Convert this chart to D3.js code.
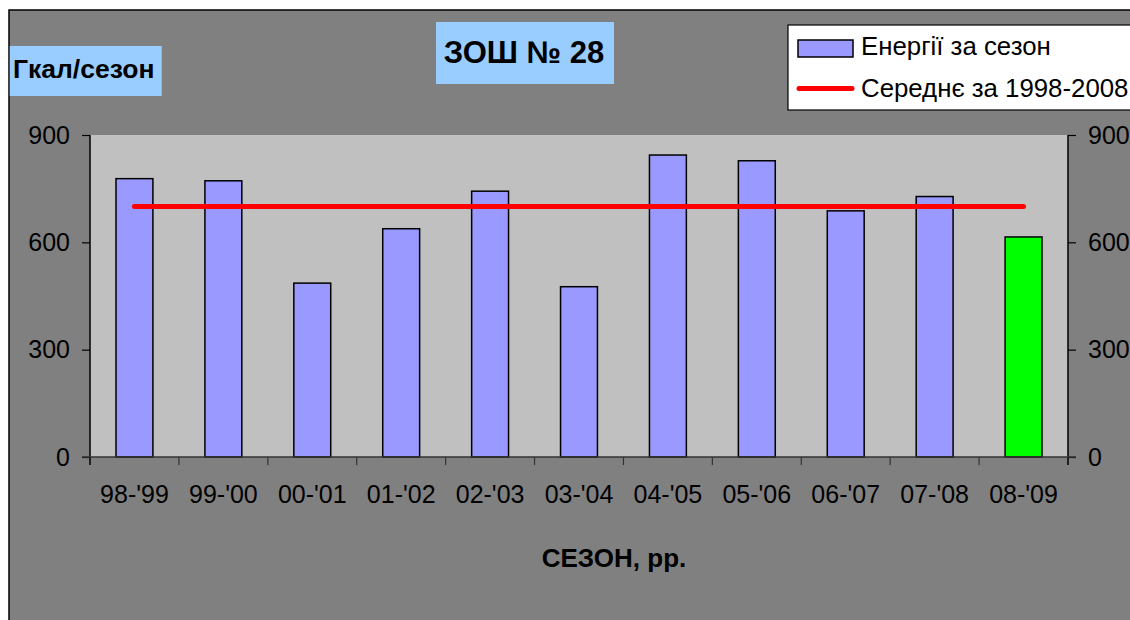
<!DOCTYPE html>
<html>
<head>
<meta charset="utf-8">
<script src="https://cdn.jsdelivr.net/npm/d3@7"></script>
<style>
  html, body { margin: 0; padding: 0; background: #ffffff; }
  svg { display: block; font-family: "Liberation Sans", Arial, sans-serif; }
</style>
</head>
<body>
<svg id="chart" width="1130" height="620"></svg>
<script>
// ---- data ----
const seasons = ["98-'99", "99-'00", "00-'01", "01-'02", "02-'03", "03-'04", "04-'05", "05-'06", "06-'07", "07-'08", "08-'09"];
const energy = [778, 772, 486, 638, 743, 476, 844, 828, 688, 728, 615];
const average = [700, 700, 700, 700, 700, 700, 700, 700, 700, 700, 700];
const yTicks = [0, 300, 600, 900];
const titleText = "ЗОШ № 28";
const yTitle = "Гкал/сезон";
const xTitle = "СЕЗОН, рр.";
const legendLabels = ["Енергії за сезон", "Середнє за 1998-2008"];

const svg = d3.select("#chart");
const plot = { left: 90, right: 1068, top: 135, bottom: 457 };

// background chart area
svg.append("rect").attr("x", 9).attr("y", 10).attr("width", 1140).attr("height", 630)
  .attr("fill", "#808080").attr("stroke", "#000").attr("stroke-width", 1.5);

// plot area
svg.append("rect").attr("x", plot.left).attr("y", plot.top)
  .attr("width", plot.right - plot.left).attr("height", plot.bottom - plot.top)
  .attr("fill", "#C0C0C0");

const x = d3.scaleBand().domain(seasons).range([plot.left, plot.right]).paddingInner(0).paddingOuter(0);
const y = d3.scaleLinear().domain([0, 900]).range([plot.bottom, plot.top]);
const barW = x.bandwidth() * 0.415;

// bars
svg.append("g").selectAll("rect").data(energy).join("rect")
  .attr("x", (d, i) => x(seasons[i]) + x.bandwidth() / 2 - barW / 2)
  .attr("y", d => y(d))
  .attr("width", barW)
  .attr("height", d => y(0) - y(d))
  .attr("fill", (d, i) => i === seasons.length - 1 ? "#00FF00" : "#9999FF")
  .attr("stroke", "#000").attr("stroke-width", 1.5);

// average line
const line = d3.line().x((d, i) => x(seasons[i]) + x.bandwidth() / 2).y(d => y(d));
svg.append("path").datum(average).attr("d", line)
  .attr("fill", "none").attr("stroke", "#FF0000").attr("stroke-width", 5)
  .attr("stroke-linecap", "round");

// axes
const axisColor = "#000";
const leftAxis = d3.axisLeft(y).tickValues(yTicks).tickSize(8).tickPadding(12).tickSizeOuter(0);
const gl = svg.append("g").attr("transform", `translate(${plot.left},0)`).call(leftAxis);
const rightAxis = d3.axisRight(y).tickValues(yTicks).tickSize(8).tickPadding(12).tickSizeOuter(0);
const gr = svg.append("g").attr("transform", `translate(${plot.right},0)`).call(rightAxis);
[gl, gr].forEach(g => {
  g.select(".domain").remove();
  g.selectAll("line").attr("stroke", axisColor).attr("stroke-width", 1.2);
  g.selectAll("text").attr("font-size", 25).attr("fill", "#000")
    .attr("font-family", "'Liberation Sans', Arial, sans-serif");
});
// vertical axis lines
svg.append("line").attr("x1", plot.left).attr("x2", plot.left).attr("y1", plot.top).attr("y2", plot.bottom + 8)
  .attr("stroke", axisColor).attr("stroke-width", 1.5);
svg.append("line").attr("x1", plot.right).attr("x2", plot.right).attr("y1", plot.top).attr("y2", plot.bottom + 8)
  .attr("stroke", axisColor).attr("stroke-width", 1.5);

// bottom axis
const gb = svg.append("g").attr("transform", `translate(0,${plot.bottom})`)
  .call(d3.axisBottom(x).tickSize(0).tickPadding(0));
gb.select(".domain").remove();
gb.selectAll("text").attr("font-size", 25).attr("fill", "#000").attr("dy", null).attr("y", 46)
  .attr("font-family", "'Liberation Sans', Arial, sans-serif");
svg.append("line").attr("x1", plot.left - 8).attr("x2", plot.right + 8).attr("y1", plot.bottom).attr("y2", plot.bottom)
  .attr("stroke", "#333").attr("stroke-width", 1.5);
// category separator ticks
svg.append("g").selectAll("line").data(seasons.slice(1)).join("line")
  .attr("x1", d => x(d)).attr("x2", d => x(d))
  .attr("y1", plot.bottom).attr("y2", plot.bottom + 8)
  .attr("stroke", "#333").attr("stroke-width", 1.2);

// title box
svg.append("rect").attr("x", 436).attr("y", 22).attr("width", 178).attr("height", 62).attr("fill", "#99CCFF");
svg.append("text").attr("x", 524).attr("y", 63).attr("text-anchor", "middle")
  .attr("font-size", 31).attr("font-weight", "bold").attr("fill", "#000").text(titleText);

// y title box
svg.append("rect").attr("x", 9.75).attr("y", 46).attr("width", 152).attr("height", 50).attr("fill", "#99CCFF");
svg.append("text").attr("x", 13).attr("y", 78).attr("font-size", 26.5).attr("font-weight", "bold")
  .attr("fill", "#000").text(yTitle);

// x title
svg.append("text").attr("x", 614).attr("y", 567).attr("text-anchor", "middle")
  .attr("font-size", 26).attr("font-weight", "bold").attr("fill", "#000").text(xTitle);

// legend
svg.append("rect").attr("x", 788).attr("y", 25).attr("width", 360).attr("height", 85)
  .attr("fill", "#fff").attr("stroke", "#000").attr("stroke-width", 1.2);
svg.append("rect").attr("x", 798).attr("y", 40).attr("width", 55).attr("height", 17)
  .attr("fill", "#9999FF").attr("stroke", "#000").attr("stroke-width", 1.5);
svg.append("line").attr("x1", 799).attr("x2", 852).attr("y1", 88.5).attr("y2", 88.5)
  .attr("stroke", "#FF0000").attr("stroke-width", 5).attr("stroke-linecap", "round");
svg.append("text").attr("x", 861).attr("y", 55).attr("font-size", 25.8).attr("fill", "#000").text(legendLabels[0]);
svg.append("text").attr("x", 861).attr("y", 97).attr("font-size", 25.8).attr("fill", "#000").text(legendLabels[1]);
</script>
</body>
</html>
